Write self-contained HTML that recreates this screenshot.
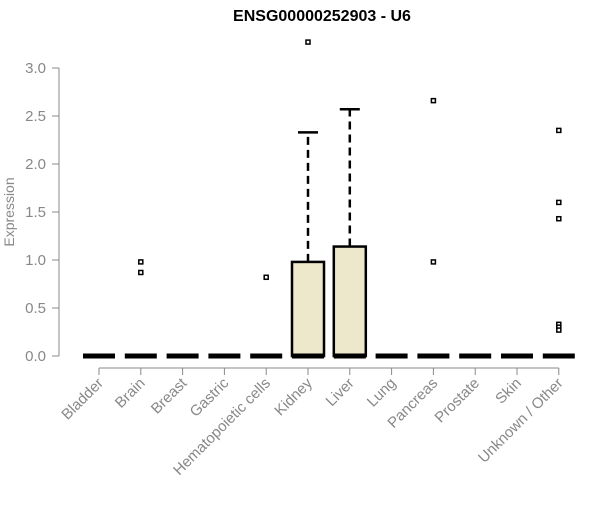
<!DOCTYPE html>
<html><head><meta charset="utf-8"><style>
body{margin:0;background:#fff}
svg{font-family:"Liberation Sans",Arial,sans-serif}
</style></head><body>
<svg id="chart" width="600" height="500">
<text x="322" y="21" font-size="16" font-weight="bold" text-anchor="middle">ENSG00000252903 - U6</text>
<text transform="translate(14,212) rotate(-90)" font-size="14" fill="#888" text-anchor="middle">Expression</text>
<g id="yaxis"></g>
<g id="xaxis"></g>
<g id="boxes"></g>
</svg>
<script>
const categories=["Bladder","Brain","Breast","Gastric","Hematopoietic cells","Kidney","Liver","Lung","Pancreas","Prostate","Skin","Unknown / Other"];
const boxTop=[0,0,0,0,0,0.98,1.14,0,0,0,0,0];
const whiskerTop=[0,0,0,0,0,2.33,2.57,0,0,0,0,0];
const outliers=[[],[0.98,0.87],[],[],[0.82],[3.27],[],[],[2.66,0.98],[],[],[2.35,1.60,1.43,0.33,0.30,0.27]];
const yTicks=["0.0","0.5","1.0","1.5","2.0","2.5","3.0"];
const NS="http://www.w3.org/2000/svg";
const y=v=>356-v*96;
const x=i=>99+i*41.8;
function mk(tag,attrs,parent){const e=document.createElementNS(NS,tag);for(const k in attrs)e.setAttribute(k,attrs[k]);parent.appendChild(e);return e;}
const ya=document.getElementById('yaxis'),xa=document.getElementById('xaxis'),bx=document.getElementById('boxes');
mk('line',{x1:59,x2:59,y1:y(0),y2:y(3),stroke:'#888'},ya);
yTicks.forEach(t=>{const v=parseFloat(t);
 mk('line',{x1:52,x2:59,y1:y(v),y2:y(v),stroke:'#888'},ya);
 const tx=mk('text',{x:46,y:y(v)+5,'font-size':15,fill:'#888','text-anchor':'end'},ya);tx.textContent=t;
 
 
});
mk('line',{x1:x(0),x2:x(categories.length-1),y1:368,y2:368,stroke:'#888'},xa);
categories.forEach((c,i)=>{
 mk('line',{x1:x(i),x2:x(i),y1:368,y2:375,stroke:'#888'},xa);
 const t=mk('text',{transform:`translate(${x(i)+5},${384}) rotate(-45)`,'font-size':15,fill:'#888','text-anchor':'end'},xa);
 t.textContent=c;
 
 
 const g=mk('g',{},bx);
 
 
 const cx=x(i);
 if(boxTop[i]>0){
  mk('line',{x1:cx,x2:cx,y1:y(boxTop[i]),y2:y(whiskerTop[i]),stroke:'#000','stroke-width':2.5,'stroke-dasharray':'8,5'},g);
  mk('line',{x1:cx-10,x2:cx+10,y1:y(whiskerTop[i]),y2:y(whiskerTop[i]),stroke:'#000','stroke-width':2.5},g);
  mk('rect',{x:cx-16,y:y(boxTop[i]),width:32,height:y(0)-y(boxTop[i]),fill:'#ede7cb',stroke:'#000','stroke-width':2.5},g);
 }
 mk('line',{x1:cx-16,x2:cx+16,y1:y(0),y2:y(0),stroke:'#000','stroke-width':5},g);
 outliers[i].forEach(v=>{const o=mk('rect',{x:cx-2,y:y(v)-2,width:4,height:4,fill:'#fff',stroke:'#000','stroke-width':1.5},g);
  
  });
});
</script>
</body></html>
